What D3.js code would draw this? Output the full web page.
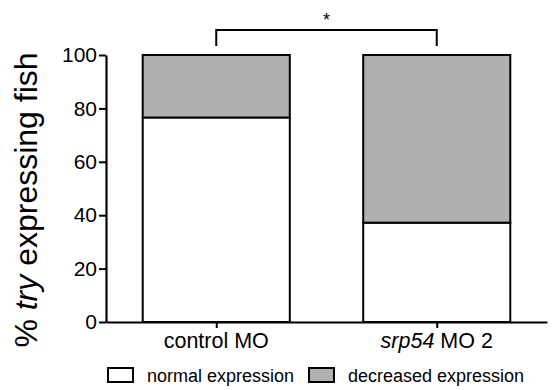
<!DOCTYPE html>
<html>
<head>
<meta charset="utf-8">
<script src="https://cdn.jsdelivr.net/npm/d3@7"></script>
<style>
  body { margin: 0; background: #fff; }
  svg { font-family: "Liberation Sans", Arial, sans-serif; }
</style>
</head>
<body>
<svg id="chart" width="553" height="390"></svg>
<script>
const categories = ['control MO', 'srp54 MO 2'];
const normalExpression = [76.6, 37.2];
const decreasedExpression = [23.4, 62.8];
const yTicks = [0, 20, 40, 60, 80, 100];
const seriesKeys = ['normal', 'decreased'];
const seriesLabels = ['normal expression', 'decreased expression'];
const fills = { normal: '#ffffff', decreased: '#b0b0b0' };
const font = '"Liberation Sans", Arial, sans-serif';

const svg = d3.select('#chart');

const x = d3.scalePoint().domain(categories).range([106, 547]).padding(0.5);
const y = d3.scaleLinear().domain([0, 100]).range([322, 55]);
const barWidth = x.step() * 0.667;

const rows = categories.map((c, i) => ({
  cat: c,
  normal: normalExpression[i],
  decreased: decreasedExpression[i]
}));
const stacked = d3.stack().keys(seriesKeys)(rows);

// bars
svg.append('g')
  .selectAll('g')
  .data(stacked)
  .join('g')
  .attr('fill', d => fills[d.key])
  .selectAll('rect')
  .data(d => d)
  .join('rect')
  .attr('x', d => x(d.data.cat) - barWidth / 2)
  .attr('width', barWidth)
  .attr('y', d => y(d[1]))
  .attr('height', d => y(d[0]) - y(d[1]))
  .attr('stroke', '#000')
  .attr('stroke-width', 2);

// y axis
const yAxis = svg.append('g')
  .attr('transform', 'translate(106,0)')
  .call(d3.axisLeft(y).tickValues(yTicks).tickSize(7).tickPadding(2).tickSizeOuter(0));
yAxis.select('.domain').attr('stroke-width', 2.2);
yAxis.selectAll('.tick line').attr('stroke-width', 2);
yAxis.selectAll('.tick text')
  .attr('font-size', 21)
  .attr('font-family', font)
  .attr('fill', '#000');

// x axis
const xAxis = svg.append('g')
  .attr('transform', 'translate(0,322)')
  .call(d3.axisBottom(x).tickSize(6).tickSizeOuter(0).tickFormat(''));
xAxis.select('.domain').attr('stroke-width', 2.2);
xAxis.selectAll('.tick line').attr('stroke-width', 2);

const catText = svg.append('g')
  .selectAll('text')
  .data(categories)
  .join('text')
  .attr('x', d => x(d))
  .attr('y', 348)
  .attr('text-anchor', 'middle')
  .attr('font-size', 21.5);
catText.each(function (d) {
  const t = d3.select(this);
  if (d.startsWith('srp54')) {
    t.append('tspan').attr('font-style', 'italic').text('srp54');
    t.append('tspan').text(' MO 2');
  } else {
    t.text(d);
  }
});

// y label
const yLabel = svg.append('text')
  .attr('transform', 'translate(37,200) rotate(-90)')
  .attr('text-anchor', 'middle')
  .attr('font-size', 32);
yLabel.append('tspan').text('% ');
yLabel.append('tspan').attr('font-style', 'italic').text('try');
yLabel.append('tspan').text(' expressing fish');

// significance bracket
const x0 = x(categories[0]);
const x1 = x(categories[1]);
svg.append('path')
  .attr('d', `M${x0},46V30H${x1}V46`)
  .attr('fill', 'none')
  .attr('stroke', '#000')
  .attr('stroke-width', 2);
svg.append('text')
  .attr('x', (x0 + x1) / 2)
  .attr('y', 26)
  .attr('text-anchor', 'middle')
  .attr('font-size', 18)
  .text('*');

// legend
const legendX = [108, 309];
const legend = svg.append('g')
  .selectAll('g')
  .data(seriesKeys)
  .join('g')
  .attr('transform', (d, i) => `translate(${legendX[i]},368)`);
legend.append('rect')
  .attr('width', 25)
  .attr('height', 14)
  .attr('fill', d => fills[d])
  .attr('stroke', '#000')
  .attr('stroke-width', 2);
legend.append('text')
  .attr('x', 39)
  .attr('y', 14)
  .attr('font-size', 18)
  .text((d, i) => seriesLabels[i]);
</script>
</body>
</html>
